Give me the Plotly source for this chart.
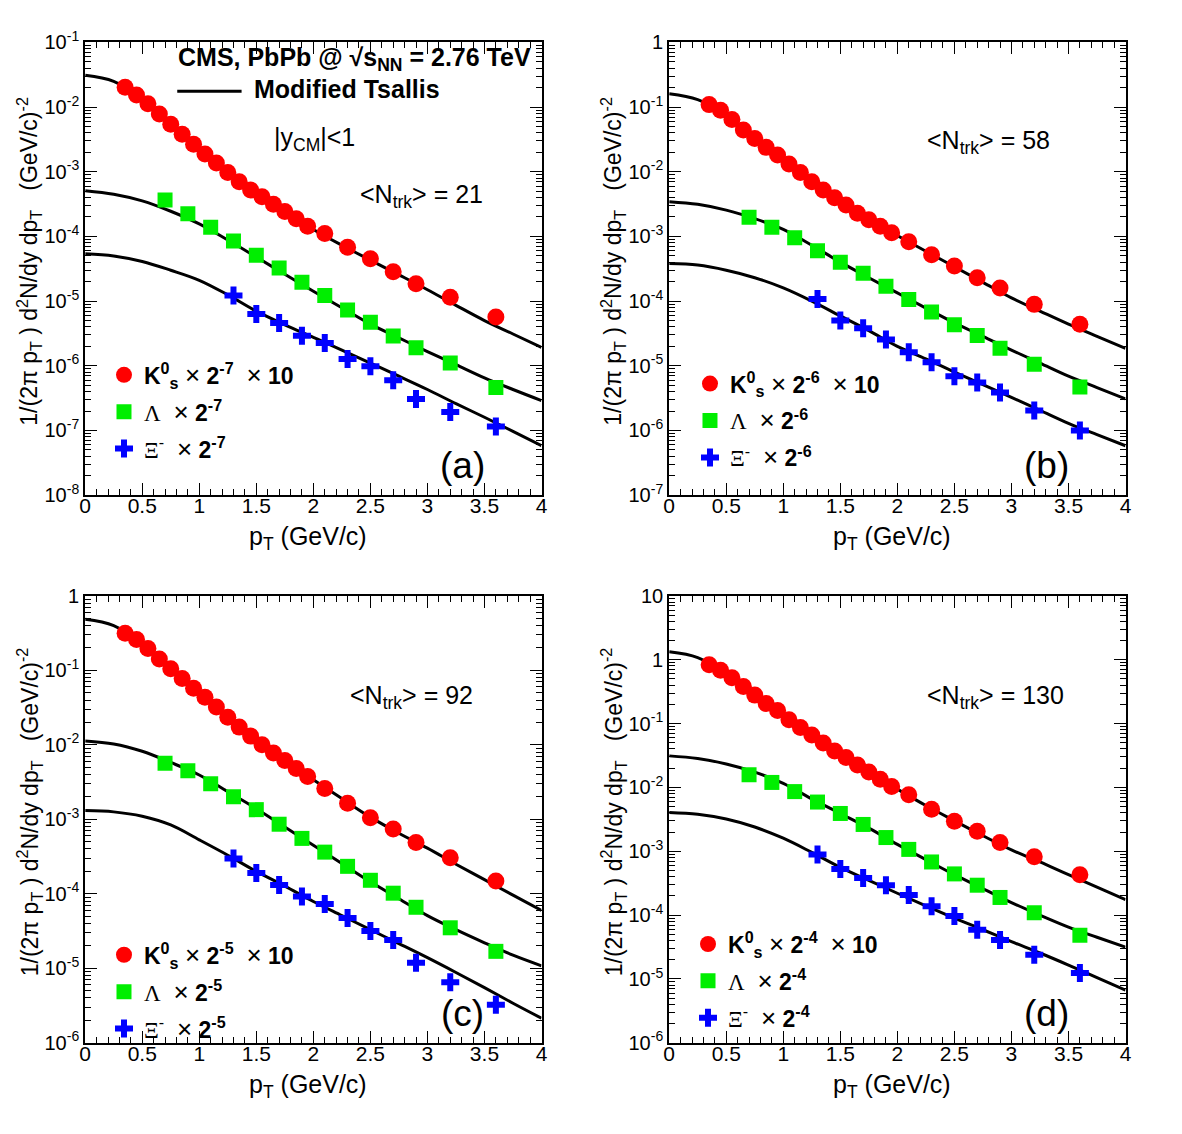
import plotly.graph_objects as go

# ---------------- data ----------------
pt_k0s = [0.35, 0.45, 0.55, 0.65, 0.75, 0.85, 0.95, 1.05, 1.15, 1.25, 1.35, 1.45,
          1.55, 1.65, 1.75, 1.85, 1.95, 2.1, 2.3, 2.5, 2.7, 2.9, 3.2, 3.6]
pt_lam = [0.7, 0.9, 1.1, 1.3, 1.5, 1.7, 1.9, 2.1, 2.3, 2.5, 2.7, 2.9, 3.2, 3.6]
pt_xi = [1.3, 1.5, 1.7, 1.9, 2.1, 2.3, 2.5, 2.7, 2.9, 3.2, 3.6]
pt_fit = [0.0, 0.25, 0.5, 0.75, 1.0, 1.25, 1.5, 1.75, 2.0, 2.25, 2.5, 2.75, 3.0, 3.25, 3.5, 3.75, 4.0]

# panel (a) <Ntrk> = 21
k0s_a = [0.0202, 0.0154, 0.0112, 0.0078, 0.0054, 0.0038, 0.00267, 0.00188, 0.00137, 0.00097,
         0.0007, 0.00052, 0.00041, 0.000314, 0.000243, 0.000188, 0.000144, 0.000111, 6.8e-5,
         4.5e-5, 2.85e-5, 1.85e-5, 1.15e-5, 5.7e-6]
lam_a = [3.65e-4, 2.24e-4, 1.39e-4, 8.5e-5, 5.1e-5, 3.25e-5, 1.95e-5, 1.22e-5, 7.3e-6,
         4.7e-6, 2.88e-6, 1.9e-6, 1.1e-6, 4.6e-7]
xi_a = [1.22e-5, 6.3e-6, 4.6e-6, 2.9e-6, 2.26e-6, 1.27e-6, 9.8e-7, 6.0e-7, 3.07e-7, 1.93e-7, 1.15e-7]
fit_k0s_a = [0.031, 0.025, 0.0132, 0.0055, 0.00224, 0.00097, 0.00046, 0.000243, 0.000128,
             7.3e-5, 4.3e-5, 2.55e-5, 1.5e-5, 8.6e-6, 5.0e-6, 3.1e-6, 1.92e-6]
fit_lam_a = [5.1e-4, 4.5e-4, 3.55e-4, 2.45e-4, 1.56e-4, 8.8e-5, 4.8e-5, 2.6e-5, 1.42e-5,
             7.9e-6, 4.4e-6, 2.7e-6, 1.66e-6, 1.04e-6, 6.5e-7, 4.3e-7, 2.9e-7]
fit_xi_a = [5.4e-5, 5.0e-5, 4.1e-5, 3.0e-5, 2.1e-5, 1.25e-5, 7.0e-6, 4.3e-6, 2.75e-6,
            1.75e-6, 1.1e-6, 6.9e-7, 4.3e-7, 2.6e-7, 1.6e-7, 9.7e-8, 5.8e-8]

# panel (b) <Ntrk> = 58
k0s_b = [0.109, 0.089, 0.064, 0.0441, 0.0326, 0.0238, 0.0182, 0.0132, 0.0097, 0.0070,
         0.0052, 0.00397, 0.00307, 0.00229, 0.00181, 0.00144, 0.00114, 0.00083, 0.00052,
         0.00035, 0.00023, 0.000159, 8.9e-5, 4.4e-5]
lam_b = [1.97e-3, 1.39e-3, 9.5e-4, 6.0e-4, 4.0e-4, 2.7e-4, 1.69e-4, 1.06e-4, 6.8e-5,
         4.3e-5, 2.95e-5, 1.86e-5, 1.06e-5, 4.7e-6]
xi_b = [1.08e-4, 5.0e-5, 3.8e-5, 2.54e-5, 1.62e-5, 1.13e-5, 6.9e-6, 5.5e-6, 3.87e-6, 2.04e-6, 1.0e-6]
fit_k0s_b = [0.16, 0.13, 0.075, 0.0326, 0.0155, 0.0070, 0.0035, 0.00181, 0.00103, 5.9e-4,
             3.4e-4, 1.95e-4, 1.12e-4, 7.0e-5, 4.4e-5, 2.85e-5, 1.86e-5]
fit_lam_b = [3.45e-3, 3.14e-3, 2.55e-3, 1.88e-3, 1.28e-3, 7.3e-4, 4.0e-4, 2.3e-4, 1.34e-4,
             7.8e-5, 4.6e-5, 2.85e-5, 1.75e-5, 1.1e-5, 6.9e-6, 4.6e-6, 3.07e-6]
fit_xi_b = [3.8e-4, 3.6e-4, 3.0e-4, 2.3e-4, 1.6e-4, 1.0e-4, 5.9e-5, 3.5e-5, 2.0e-5,
            1.28e-5, 8.0e-6, 5.1e-6, 3.25e-6, 2.05e-6, 1.29e-6, 8.6e-7, 5.8e-7]

# panel (c) <Ntrk> = 92
k0s_c = [0.316, 0.259, 0.196, 0.142, 0.105, 0.078, 0.0577, 0.0436, 0.0323, 0.0234, 0.0173,
         0.0131, 0.0100, 0.00778, 0.00618, 0.00481, 0.00375, 0.00259, 0.00165, 0.00105,
         0.00074, 0.00049, 0.000306, 0.000149]
lam_c = [5.65e-3, 4.49e-3, 3.0e-3, 2.01e-3, 1.35e-3, 8.6e-4, 5.55e-4, 3.63e-4, 2.34e-4,
         1.52e-4, 1.02e-4, 6.6e-5, 3.5e-5, 1.69e-5]
xi_c = [2.97e-4, 1.91e-4, 1.31e-4, 9.2e-5, 7.3e-5, 4.73e-5, 3.17e-5, 2.4e-5, 1.19e-5, 6.5e-6, 3.25e-6]
fit_k0s_c = [0.486, 0.40, 0.225, 0.105, 0.050, 0.0234, 0.0114, 0.00618, 0.0034, 1.9e-3,
             1.07e-3, 6.5e-4, 4.1e-4, 2.5e-4, 1.55e-4, 9.6e-5, 6.0e-5]
fit_lam_c = [0.0113, 0.0103, 8.2e-3, 5.8e-3, 3.94e-3, 2.35e-3, 1.39e-3, 7.9e-4, 4.5e-4,
             2.55e-4, 1.45e-4, 8.6e-5, 5.1e-5, 3.3e-5, 2.2e-5, 1.5e-5, 1.08e-5]
fit_xi_c = [1.31e-3, 1.26e-3, 1.1e-3, 8.4e-4, 5.3e-4, 3.3e-4, 2.0e-4, 1.27e-4, 7.9e-5,
            5.1e-5, 3.3e-5, 2.15e-5, 1.39e-5, 8.8e-6, 5.5e-6, 3.4e-6, 2.14e-6]

# panel (d) <Ntrk> = 130
k0s_d = [0.836, 0.684, 0.523, 0.382, 0.279, 0.206, 0.160, 0.115, 0.087, 0.0665, 0.0497,
         0.0371, 0.0294, 0.0225, 0.0174, 0.01346, 0.0103, 0.0077, 0.00455, 0.00296,
         0.00206, 0.00137, 0.00082, 0.00043]
lam_d = [0.0158, 0.01197, 8.6e-3, 5.9e-3, 3.91e-3, 2.63e-3, 1.64e-3, 1.07e-3, 6.8e-4,
         4.42e-4, 2.94e-4, 1.89e-4, 1.09e-4, 4.84e-5]
xi_d = [8.9e-4, 5.27e-4, 3.8e-4, 2.94e-4, 2.07e-4, 1.38e-4, 9.7e-5, 5.9e-5, 4.07e-5, 2.4e-5, 1.24e-5]
fit_k0s_d = [1.33, 1.08, 0.60, 0.279, 0.136, 0.0665, 0.033, 0.0174, 0.0094, 5.2e-3,
             3.0e-3, 1.75e-3, 1.05e-3, 6.8e-4, 4.3e-4, 2.75e-4, 1.74e-4]
fit_lam_d = [0.0312, 0.0284, 0.0233, 0.0174, 0.0116, 6.6e-3, 3.9e-3, 2.3e-3, 1.28e-3,
             7.4e-4, 4.3e-4, 2.6e-4, 1.57e-4, 1.0e-4, 6.5e-5, 4.5e-5, 3.15e-5]
fit_xi_d = [4.06e-3, 3.8e-3, 3.2e-3, 2.4e-3, 1.6e-3, 9.6e-4, 5.6e-4, 3.5e-4, 2.2e-4,
            1.4e-4, 8.97e-5, 5.9e-5, 3.84e-5, 2.55e-5, 1.65e-5, 1.05e-5, 6.7e-6]

panel_labels = ["(a)", "(b)", "(c)", "(d)"]
ntrk_labels = ["21", "58", "92", "130"]
scale_exps = ["-7", "-6", "-5", "-4"]
y_decades = [(-8, -1), (-7, 0), (-6, 0), (-6, 1)]

# ---------------- layout helpers ----------------
W, H = 1182, 1134
FONT = "Liberation Sans, Arial, Helvetica, sans-serif"
SERIF = "'Liberation Serif', 'Times New Roman', serif"


def px(x):
    return x / W


def py(y):
    return 1 - y / H


# pixel boxes of the four frames: (left, right, top, bottom)
boxes = [(80, 541, 29, 492), (670, 1131, 29, 492), (80, 541, 595, 1052), (670, 1131, 595, 1052)]

datasets = [
    (k0s_a, lam_a, xi_a, fit_k0s_a, fit_lam_a, fit_xi_a),
    (k0s_b, lam_b, xi_b, fit_k0s_b, fit_lam_b, fit_xi_b),
    (k0s_c, lam_c, xi_c, fit_k0s_c, fit_lam_c, fit_xi_c),
    (k0s_d, lam_d, xi_d, fit_k0s_d, fit_lam_d, fit_xi_d),
]

fig = go.Figure()

TIMES = "<span style=\"font-size:26px\">×</span>"

for i, (k, l, x, fk, fl, fxi) in enumerate(datasets):
    n = "" if i == 0 else str(i + 1)
    xa, ya = "x" + n, "y" + n
    leg = "legend" + n
    e = scale_exps[i]
    for fv in (fk, fl, fxi):
        fig.add_trace(go.Scatter(x=pt_fit, y=fv, mode="lines", xaxis=xa, yaxis=ya,
                                 line=dict(color="black", width=3, shape="spline", smoothing=1.0),
                                 showlegend=False, hoverinfo="skip"))
    fig.add_trace(go.Scatter(
        x=pt_k0s, y=k, mode="markers", xaxis=xa, yaxis=ya, legend=leg, legendgroup=f"k{i}",
        marker=dict(symbol="circle", size=17, color="#ff0000", line=dict(width=0)),
        name=f"<b>K<sup>0</sup><sub>s</sub></b> {TIMES} <b>2<sup>{e}</sup></b>  {TIMES} <b>10</b>"))
    fig.add_trace(go.Scatter(
        x=pt_lam, y=l, mode="markers", xaxis=xa, yaxis=ya, legend=leg, legendgroup=f"l{i}",
        marker=dict(symbol="square", size=15, color="#00ee00", line=dict(width=0)),
        name=f"<span style=\"font-family:{SERIF}\">Λ</span>  {TIMES} <b>2<sup>{e}</sup></b>"))
    fig.add_trace(go.Scatter(
        x=pt_xi, y=x, mode="markers", xaxis=xa, yaxis=ya, legend=leg, legendgroup=f"x{i}",
        marker=dict(symbol="cross", size=15, color="#0000ff", line=dict(width=0)),
        name=f"<span style=\"font-family:{SERIF}\">Ξ</span><sup>-</sup>  {TIMES} <b>2<sup>{e}</sup></b>"))

layout = dict(
    width=W, height=H, margin=dict(l=0, r=0, t=0, b=0),
    paper_bgcolor="white", plot_bgcolor="white",
    font=dict(family=FONT, size=20, color="black"),
    showlegend=True,
)

xticks_major = [0, 0.5, 1, 1.5, 2, 2.5, 3, 3.5, 4]
xtick_text = ["0", "0.5", "1", "1.5", "2", "2.5", "3", "3.5", "4"]
xticks_minor = [round(0.1 * j, 1) for j in range(41)]

annotations = []
shapes = []

# first legend row centre (marker x, row y) per panel
legend_pos = [(121, 369), (713, 378), (121, 962), (711, 951)]

for i, (L, R, T, B) in enumerate(boxes):
    n = "" if i == 0 else str(i + 1)
    lo, hi = y_decades[i]
    yvals = [10.0 ** kk for kk in range(lo, hi + 1)]
    ytext = []
    for kk in range(lo, hi + 1):
        if kk == 0:
            ytext.append("1")
        elif kk == 1:
            ytext.append("10")
        else:
            ytext.append(f"10<sup>{kk}</sup>")
    yminor = [m * 10.0 ** kk for kk in range(lo, hi) for m in range(2, 10)]
    layout["xaxis" + n] = dict(
        domain=[px(L), px(R)], anchor="y" + n, range=[0, 4],
        showline=True, linecolor="black", linewidth=2, mirror="allticks",
        ticks="inside", ticklen=12, tickwidth=1.3, tickcolor="black",
        tickvals=xticks_major, ticktext=xtick_text, ticklabelstandoff=-9,
        tickfont=dict(size=21, family=FONT), showgrid=False, zeroline=False,
        minor=dict(tickvals=xticks_minor, ticks="inside", ticklen=6, tickwidth=1.3,
                   tickcolor="black", showgrid=False),
    )
    layout["yaxis" + n] = dict(
        domain=[py(B), py(T)], anchor="x" + n, type="log", range=[lo, hi],
        showline=True, linecolor="black", linewidth=2, mirror="allticks",
        ticks="inside", ticklen=12, tickwidth=1.3, tickcolor="black",
        tickvals=yvals, ticktext=ytext,
        tickfont=dict(size=20, family=FONT), showgrid=False, zeroline=False,
        minor=dict(tickvals=yminor, ticks="inside", ticklen=6, tickwidth=1.3,
                   tickcolor="black", showgrid=False),
    )
    mx, my = legend_pos[i]
    layout["legend" + n] = dict(
        x=px(mx - 22), y=py(my - 22), xanchor="left", yanchor="top",
        bgcolor="rgba(255,255,255,0)", borderwidth=0,
        font=dict(size=23, family=FONT, color="black"),
        traceorder="grouped", tracegroupgap=4, itemwidth=30,
    )
    annotations.append(dict(
        x=px(L + 225), y=py(B + 44), xref="paper", yref="paper",
        text="p<sub>T</sub> (GeV/c)", showarrow=False, font=dict(size=25, family=FONT),
        xanchor="center", yanchor="middle"))
    annotations.append(dict(
        x=px(L - 57), y=py((T + B) / 2 - 8), xref="paper", yref="paper",
        text="1/(2π p<sub>T</sub> ) d<sup>2</sup>N/dy dp<sub>T</sub>   (GeV/c)<sup>-2</sup>",
        showarrow=False, textangle=-90, font=dict(size=23, family=FONT),
        xanchor="center", yanchor="middle"))
    annotations.append(dict(
        x=px(R - 80), y=py(B - 30), xref="paper", yref="paper", text=panel_labels[i],
        showarrow=False, font=dict(size=37, family=FONT), xanchor="center", yanchor="middle"))

# <Ntrk> labels
ntrk_pos = [(420, 186), (993, 131), (410, 698), (1000, 698)]
for i, (xx, yy) in enumerate(ntrk_pos):
    annotations.append(dict(
        x=px(xx), y=py(yy), xref="paper", yref="paper",
        text=f"&lt;N<sub>trk</sub>&gt; = {ntrk_labels[i]}", showarrow=False,
        font=dict(size=25, family=FONT), xanchor="center", yanchor="middle"))

# panel (a) header texts
annotations.append(dict(
    x=px(352), y=py(46), xref="paper", yref="paper",
    text="<b>CMS, PbPb @ √s<sub>NN</sub> = 2.76 TeV</b>", showarrow=False,
    font=dict(size=25, family=FONT), xanchor="center", yanchor="middle"))
annotations.append(dict(
    x=px(249), y=py(77), xref="paper", yref="paper",
    text="<b>Modified Tsallis</b>", showarrow=False,
    font=dict(size=25, family=FONT), xanchor="left", yanchor="middle"))
annotations.append(dict(
    x=px(312), y=py(128), xref="paper", yref="paper",
    text="|y<sub>CM</sub>|&lt;1", showarrow=False,
    font=dict(size=25, family=FONT), xanchor="center", yanchor="middle"))
shapes.append(dict(type="line", xref="paper", yref="paper",
                   x0=px(173), x1=px(238), y0=py(79), y1=py(79),
                   line=dict(color="black", width=3)))

layout["annotations"] = annotations
layout["shapes"] = shapes
fig.update_layout(**layout)

fig.write_html("out.html")
